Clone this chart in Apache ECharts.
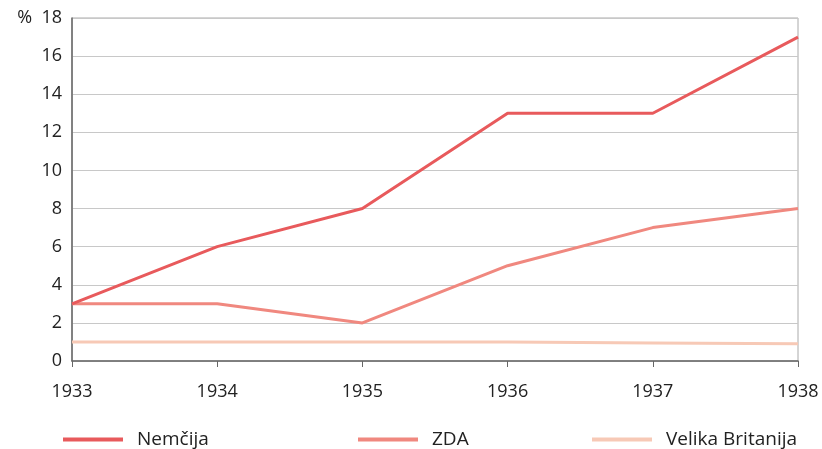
<!DOCTYPE html>
<html><head><meta charset="utf-8">
<script src="https://cdn.jsdelivr.net/npm/echarts@6/dist/echarts.min.js"></script>
<style>html,body{margin:0;padding:0;background:#fff}#c{width:822px;height:449px}</style>
</head><body><div id="c"></div>
<script>
const years = ['1933','1934','1935','1936','1937','1938'];
const nemcija = [3, 6, 8, 13, 13, 17];
const zda = [3, 3, 2, 5, 7, 8];
const britanija = [1, 1, 1, 1, 0.95, 0.9];
const yTicks = [0, 2, 4, 6, 8, 10, 12, 14, 16, 18];

const font = 'Open Sans, Liberation Sans, sans-serif';
const chart = echarts.init(document.getElementById('c'));
const legendBase = {bottom: 0, padding: 0, itemWidth: 60, itemHeight: 4, icon: 'rect',
  textStyle: {fontSize: 19, color: '#222', fontFamily: font, padding: [0,0,0,9]}};
chart.setOption({
  animation: false,
  backgroundColor: '#fff',
  grid: {left: 72, right: 24, top: 18, bottom: 88, show: true, borderColor: '#aaa', borderWidth: 1},
  legend: [
    Object.assign({left: 63, data: ['Nemčija']}, legendBase),
    Object.assign({left: 358, data: ['ZDA']}, legendBase),
    Object.assign({left: 592, data: ['Velika Britanija']}, legendBase)
  ],
  xAxis: {
    type: 'category', data: years, boundaryGap: false,
    axisLine: {lineStyle: {color: '#666', width: 1.5}},
    axisTick: {show: true, length: 6, lineStyle: {color: '#666'}},
    axisLabel: {fontSize: 18, color: '#222', fontFamily: font, margin: 22,
      interval: 0, showMinLabel: true, showMaxLabel: true},
    splitLine: {show: false}
  },
  yAxis: {
    type: 'value', min: 0, max: 18, interval: 2,
    axisLine: {show: true, lineStyle: {color: '#666', width: 1.5}},
    axisTick: {show: false},
    axisLabel: {fontSize: 18, color: '#222', fontFamily: font, margin: 10,
      formatter: v => yTicks.includes(v) ? (v === 18 ? '%  18' : String(v)) : ''},
    splitLine: {lineStyle: {color: '#c8c8c8', width: 1}}
  },
  series: [
    {name: 'Nemčija', type: 'line', data: nemcija, symbol: 'none', z: 5,
      lineStyle: {color: '#e85a5c', width: 3}, itemStyle: {color: '#e85a5c'}},
    {name: 'ZDA', type: 'line', data: zda, symbol: 'none', z: 4,
      lineStyle: {color: '#f0887f', width: 3}, itemStyle: {color: '#f0887f'}},
    {name: 'Velika Britanija', type: 'line', data: britanija, symbol: 'none', z: 3,
      lineStyle: {color: '#f7c9b6', width: 3}, itemStyle: {color: '#f7c9b6'}}
  ]
});
</script></body></html>
